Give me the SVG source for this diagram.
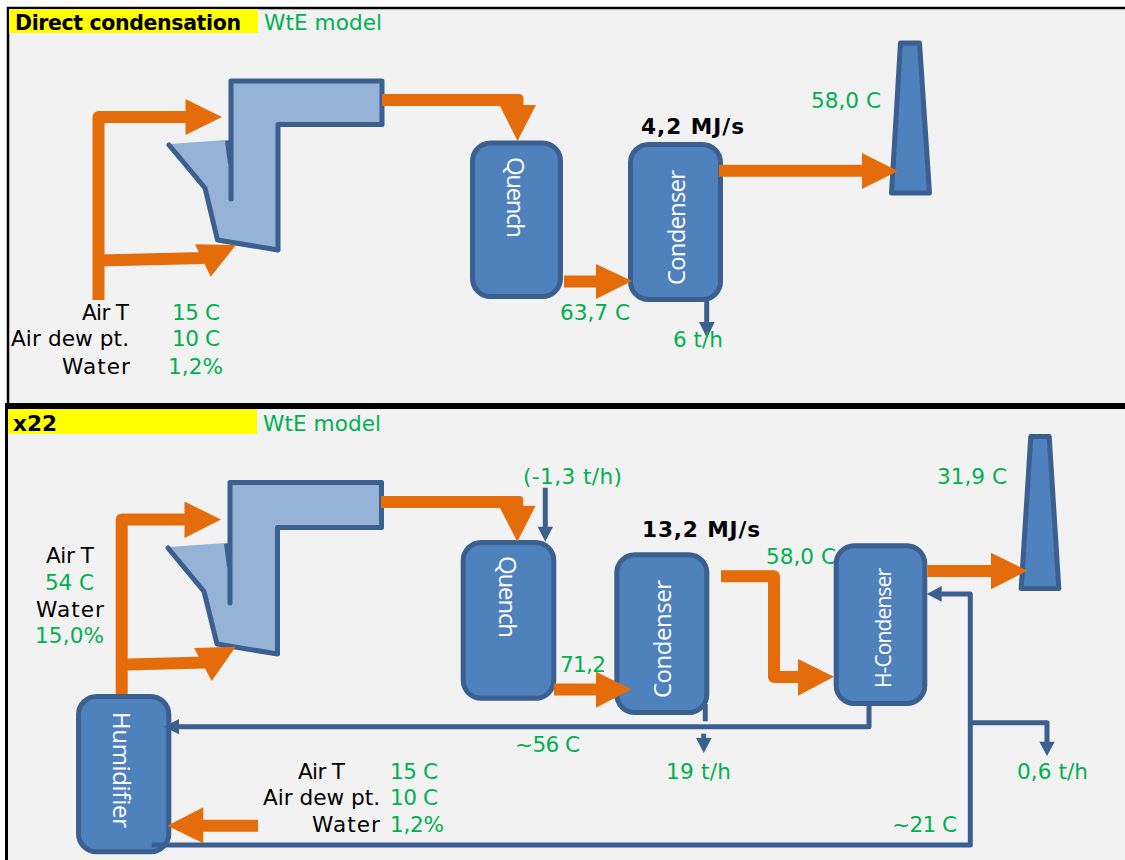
<svg xmlns="http://www.w3.org/2000/svg" width="1125" height="860" viewBox="0 0 1125 860">
<style>
text{font-family:"DejaVu Sans","Liberation Sans",sans-serif;font-size:21.6px}
.g{fill:#00b050}
.k{fill:#000}
.b{font-weight:bold;fill:#000}
.w{font-family:"Open Sans","Noto Sans",sans-serif;font-size:24px;fill:#fff}
.node{fill:#4f81bd;stroke:#3b5f8f;stroke-width:5;stroke-linejoin:round}
.duct{fill:#95b3d7}
.ductline{fill:none;stroke:#3b5f8f;stroke-width:5;stroke-linejoin:round;stroke-linecap:round}
.o{fill:none;stroke:#e46c0a;stroke-width:12;stroke-linejoin:round}
.oh{fill:#e46c0a}
.l{fill:none;stroke:#3b5f8f;stroke-width:5;stroke-linejoin:round}
.lh{fill:#3b5f8f}
</style>
<rect width="1125" height="860" fill="#fff"/>
<rect x="8" y="8" width="1117" height="852" fill="#f2f2f2"/>
<g id="frames">
<path d="M8 404V8H1125" fill="none" stroke="#000" stroke-width="2.5"/>
<rect x="5" y="403" width="1120" height="6" fill="#000"/>
<rect x="5" y="407" width="3" height="453" fill="#000"/>
<rect x="9" y="9" width="249" height="24" fill="#ff0"/>
<rect x="8" y="409" width="249" height="25" fill="#ff0"/>
</g>
<g id="labels">
<text class="b" style="font-size:20.5px" x="15" y="30" textLength="226">Direct condensation</text>
<text class="g" x="264" y="30" textLength="118">WtE model</text>
<text class="b" x="13" y="431" textLength="44">x22</text>
<text class="g" x="263" y="431" textLength="118">WtE model</text>
<text class="k" x="82" y="320" textLength="47">Air T</text>
<text class="k" x="11" y="346" textLength="118">Air dew pt.</text>
<text class="k" x="62" y="374" textLength="68">Water</text>
<text class="g" x="172" y="320" textLength="48">15 C</text>
<text class="g" x="172" y="346" textLength="48">10 C</text>
<text class="g" x="168" y="374" textLength="55">1,2%</text>
<text class="g" x="811" y="108" textLength="70">58,0 C</text>
<text class="b" x="641" y="134" textLength="103">4,2 MJ/s</text>
<text class="g" x="560" y="320" textLength="70">63,7 C</text>
<text class="k" x="46" y="563" textLength="48">Air T</text>
<text class="g" x="45" y="590" textLength="49">54 C</text>
<text class="k" x="36" y="617" textLength="68">Water</text>
<text class="g" x="35" y="643" textLength="69">15,0%</text>
<text class="g" x="523" y="484" textLength="99">(-1,3 t/h)</text>
<text class="b" x="642" y="537" textLength="118">13,2 MJ/s</text>
<text class="g" x="766" y="564" textLength="70">58,0 C</text>
<text class="g" x="515" y="752" textLength="65">~56 C</text>
<text class="g" x="666" y="779" textLength="65">19 t/h</text>
<text class="g" x="1017" y="779" textLength="71">0,6 t/h</text>
<text class="g" x="892" y="832" textLength="65">~21 C</text>
<text class="g" x="937" y="484" textLength="70">31,9 C</text>
<text class="k" x="298" y="779" textLength="47">Air T</text>
<text class="k" x="263" y="805" textLength="117">Air dew pt.</text>
<text class="k" x="312" y="832" textLength="68">Water</text>
<text class="g" x="390" y="779" textLength="48">15 C</text>
<text class="g" x="390" y="805" textLength="48">10 C</text>
<text class="g" x="390" y="832" textLength="54">1,2%</text>
</g>
<g id="furnace-1">
<path class="duct" d="M231 81H382V124.5H278V250L217.5 240L205 188L169 144L226 140L231 141Z"/>
<path d="M225 141L231 140V166L228 164Z" fill="#3b5f8f"/>
<path class="ductline" d="M231 199V81H382V124.5H278V250L217.5 240L205 188L169 145" stroke-linecap="butt"/>
</g>
<g id="furnace-2">
<path class="duct" d="M230 482.5H381.5V527.5H277.5V654L217 644L204 591.5L168 547L226 543L230 544Z"/>
<path d="M224 544L230 543V569L227 567Z" fill="#3b5f8f"/>
<path class="ductline" d="M230 603V482.5H381.5V527.5H277.5V654L217 644L204 591.5L168 548" stroke-linecap="butt"/>
</g>
<g id="quench-1"><rect class="node" x="472.5" y="143" width="88" height="153.5" rx="18"/>
<text class="w" transform="translate(507 157) rotate(90)" textLength="81">Quench</text></g>
<g id="condenser-1"><rect class="node" x="630.5" y="144.5" width="90" height="155" rx="18"/>
<text class="w" transform="translate(685 285) rotate(-90)" textLength="115">Condenser</text></g>
<g id="stack-1"><path class="node" d="M900.5 43H919.5L929.5 193H891.5Z"/></g>
<g id="quench-2"><rect class="node" x="463.2" y="542.5" width="90.6" height="155.7" rx="18"/>
<text class="w" transform="translate(498.7 556) rotate(90)" textLength="82">Quench</text></g>
<g id="condenser-2"><rect class="node" x="616.8" y="554.8" width="90" height="157.7" rx="18"/>
<text class="w" transform="translate(671 698) rotate(-90)" textLength="118">Condenser</text></g>
<g id="h-condenser"><rect class="node" x="836.2" y="545.8" width="88.6" height="157.7" rx="18"/>
<text class="w" style="font-size:21px" transform="translate(890.7 688) rotate(-90)" textLength="120">H-Condenser</text></g>
<g id="stack-2"><path class="node" d="M1030.8 436.5H1049.2L1058.8 588.5H1021.2Z"/></g>
<g id="humidifier"><rect class="node" x="78.5" y="696.5" width="90.3" height="155.3" rx="18"/>
<text class="w" transform="translate(112.7 712) rotate(90)" textLength="116">Humidifier</text></g>
<g id="connectors">
<path class="o" d="M98.5 300V117H186"/><path class="oh" d="M185.5 99L222 117L185.5 135Z"/>
<path class="o" d="M98.5 260.5L204 258"/><path class="oh" d="M195 244.3L236 245L210.7 276.7Z"/>
<path class="oh" d="M382 94H519Q523.5 94 523.5 98.5V105H536L517.5 141L500 106H382Z"/>
<path class="o" d="M564 281.5H597"/><path class="oh" d="M596 264L632 281L596 299Z"/>
<path class="o" d="M719 170.7H863"/><path class="oh" d="M862 153L898 171L862 189Z"/>
<path class="l" d="M706.7 300V323"/><path class="lh" d="M699 322H714.6L707 338Z"/>
<path class="o" d="M121.7 694V519.5H185"/><path class="oh" d="M184.5 501.5L221 519.5L184.5 538Z"/>
<path class="o" d="M127 664.5L205 662.5"/><path class="oh" d="M194 648L235.7 646.7L211.7 681Z"/>
<path class="oh" d="M381 496H519Q523.3 496 523.3 500V505.7H535.7L517.3 541.7L500 508H381Z"/>
<path class="l" d="M545.3 487.7V528"/><path class="lh" d="M537.7 526.7H553L545.3 541.7Z"/>
<path class="o" d="M554 689.5H597"/><path class="oh" d="M596 671.7L631.7 689.3L596 707.7Z"/>
<path class="o" d="M721 576.3H774V677H799"/><path class="oh" d="M798 659L834 676.7L798 695.7Z"/>
<path class="o" d="M927.3 571H992"/><path class="oh" d="M991 552.7L1027.3 570.7L991 589.3Z"/>
<path class="o" d="M258 825.7H202"/><path class="oh" d="M203.3 807.3L167.3 825.7L203.3 843.3Z"/>
<path class="l" d="M705.3 704V721.3"/>
<path class="l" d="M703.7 733.7V740"/><path class="lh" d="M696 738H711.6L703.8 753Z"/>
<path class="l" d="M869 704V726.7H178"/><path class="lh" d="M179 719V734.3L164 726.7Z"/>
<path class="l" d="M151.7 845H970.3V594H941"/><path class="lh" d="M941.7 586V601.7L926.7 594Z"/>
<path class="l" d="M970.3 722.7H1047V743"/><path class="lh" d="M1039.3 741.7H1054.7L1047 756Z"/>
</g>
<g id="overlay-labels">
<text class="g" x="673" y="347" textLength="50">6 t/h</text>
<text class="g" x="560" y="672" textLength="46">71,2</text>
</g>
</svg>
